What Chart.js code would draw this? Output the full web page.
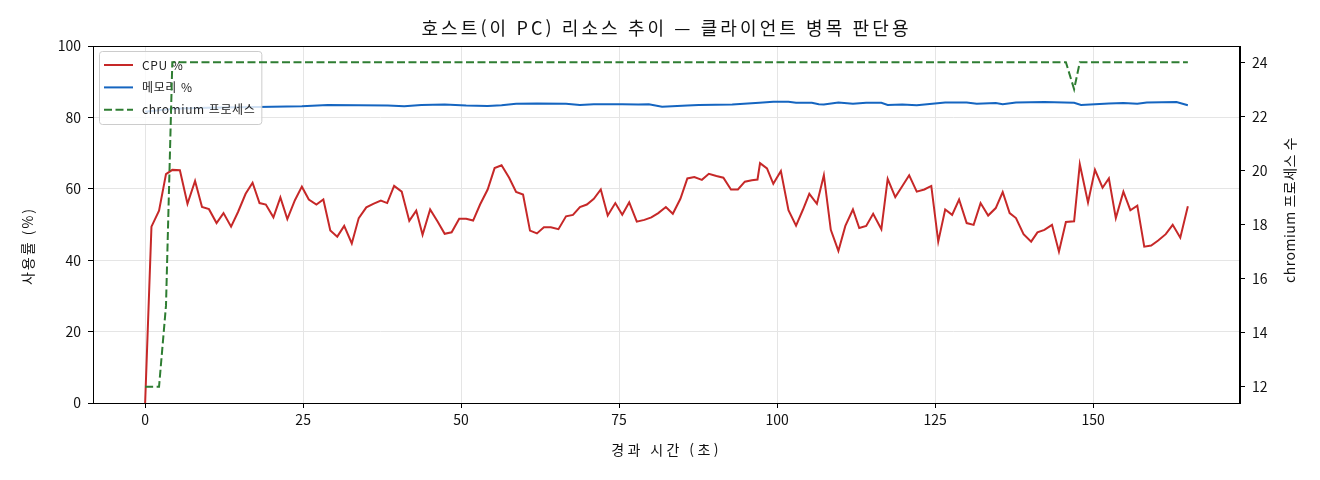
<!DOCTYPE html>
<html lang="ko">
<head>
<meta charset="utf-8">
<script src="https://cdn.jsdelivr.net/npm/chart.js@4.4.1/dist/chart.umd.min.js"></script>
<style>
  html, body { margin: 0; padding: 0; background: #fff; }
  #wrap { width: 1320px; height: 480px; position: relative; }
</style>
</head>
<body>
<div id="wrap"><canvas id="chart"></canvas></div>
<script>
// fonts
const FONT = "'Noto Sans CJK KR', 'Noto Sans', sans-serif";

const chartTitle = '호스트(이 PC) 리소스 추이 — 클라이언트 병목 판단용';
const xTitle = '경과 시간 (초)';
const leftTitle = '사용률 (%)';
const rightTitle = 'chromium 프로세스 수';
const seriesLabels = ['CPU %', '메모리 %', 'chromium 프로세스'];

// CPU % samples (elapsed seconds / percent)
const cpuTime = [
  0, 1.0, 2.2, 3.3, 4.3, 5.5, 6.7, 7.9, 9.0, 10.1, 11.3, 12.4, 13.6, 14.7, 15.9, 17.0,
  18.1, 19.1, 20.3, 21.4, 22.5, 23.7, 24.8, 25.9, 27.1, 28.2, 29.3, 30.4, 31.5, 32.7,
  33.8, 35.0, 36.1, 37.3, 38.3, 39.4, 40.6, 41.8, 42.9, 43.9, 45.1, 46.3, 47.4, 48.5,
  49.7, 50.8, 51.9, 53.0, 54.2, 55.3, 56.4, 57.6, 58.7, 59.8, 60.9, 62.0, 63.1, 64.2,
  65.4, 66.6, 67.7, 68.8, 69.9, 71.0, 72.1, 73.2, 74.4, 75.5, 76.6, 77.8, 79.0, 80.1,
  81.2, 82.4, 83.5, 84.7, 85.8, 86.9, 88.1, 89.2, 90.4, 91.5, 92.7, 93.8, 94.9, 96.0,
  96.9, 97.3, 98.4, 99.4, 100.6, 101.8, 103.0, 104.1, 105.1, 106.3, 107.4, 108.5, 109.7,
  110.8, 112.0, 113.0, 114.1, 115.2, 116.5, 117.5, 118.7, 119.8, 120.9, 122.1, 123.3,
  124.4, 125.5, 126.6, 127.7, 128.8, 130.0, 131.1, 132.2, 133.4, 134.6, 135.7, 136.8,
  137.8, 139.0, 140.2, 141.2, 142.3, 143.5, 144.6, 145.7, 147.0, 147.9, 149.2, 150.3,
  151.5, 152.5, 153.6, 154.8, 155.9, 157.0, 158.1, 159.2, 160.3, 161.5, 162.6, 163.8, 165.0
];
const cpuPct = [
  0, 49.4, 53.9, 64.1, 65.3, 65.2, 55.8, 62.2, 54.9, 54.3, 50.4, 53.2, 49.4, 53.5, 58.6, 61.7,
  56.0, 55.6, 52.0, 57.6, 51.5, 56.8, 60.6, 57.0, 55.6, 57.0, 48.3, 46.6, 49.6, 44.7,
  51.8, 54.8, 55.8, 56.7, 56.0, 60.8, 59.2, 51.0, 53.9, 47.1, 54.2, 50.8, 47.4, 47.8,
  51.6, 51.6, 51.1, 55.6, 59.8, 65.8, 66.6, 63.1, 59.1, 58.4, 48.3, 47.5, 49.2, 49.2,
  48.7, 52.3, 52.7, 54.9, 55.6, 57.2, 59.8, 52.5, 56.0, 52.7, 56.2, 50.8, 51.3, 52.0,
  53.2, 54.9, 53.0, 57.2, 62.9, 63.3, 62.5, 64.2, 63.6, 63.1, 59.8, 59.8, 62.0, 62.4,
  62.6, 67.2, 65.7, 61.4, 65.0, 54.0, 49.7, 54.2, 58.6, 55.8, 63.8, 48.5, 42.6,
  49.6, 54.2, 49.0, 49.6, 53.0, 48.7, 62.8, 57.7, 60.7, 63.8, 59.2, 59.8,
  60.8, 45.2, 54.2, 52.7, 57.0, 50.4, 49.9, 56.0, 52.5, 54.6, 59.1, 53.2,
  51.8, 47.3, 45.2, 47.8, 48.5, 49.9, 42.4, 50.7, 50.9, 66.9, 56.2, 65.3,
  60.3, 62.9, 51.8, 59.2, 54.0, 55.3, 43.8, 44.1, 45.5, 47.3, 49.9, 46.3, 55.1
];

// memory % samples
const memTime = [
  0, 2.2, 4.3, 9.8, 17.7, 24.8, 28.9, 33.8, 38.4, 41.0, 43.7, 47.4, 50.8, 54.2, 56.4,
  58.7, 62.0, 66.6, 68.8, 71.0, 75.5, 78.0, 79.7, 81.8, 85.8, 87.6, 92.9, 97.2, 99.4,
  101.8, 103.0, 105.5, 106.6, 107.4, 109.7, 112.0, 114.1, 116.5, 117.5, 119.8, 122.1,
  126.6, 130.0, 131.6, 134.6, 135.7, 137.8, 142.3, 147.0, 148.1, 150.3, 152.5, 154.8,
  157.0, 158.5, 163.2, 165.0
];
const memPct = [
  81.6, 82.0, 82.4, 82.7, 82.9, 83.1, 83.5, 83.4, 83.3, 83.1, 83.5, 83.6, 83.3, 83.2, 83.4,
  83.8, 83.9, 83.8, 83.5, 83.7, 83.7, 83.6, 83.7, 83.0, 83.3, 83.5, 83.6, 84.1, 84.4,
  84.4, 84.1, 84.1, 83.7, 83.6, 84.2, 83.8, 84.1, 84.1, 83.5, 83.6, 83.4,
  84.2, 84.2, 83.8, 84.0, 83.7, 84.2, 84.3, 84.1, 83.5, 83.7, 83.9, 84.0,
  83.8, 84.2, 84.3, 83.4
];

// chromium process count (right axis)
const procTime = [0, 1.0, 2.2, 3.3, 4.3, 145.7, 147.0, 147.9, 165.0];
const procCount = [12, 12, 12, 15, 24, 24, 23, 24, 24];

const xTicks = [0, 25, 50, 75, 100, 125, 150];
const leftTicks = [0, 20, 40, 60, 80, 100];
const rightTicks = [12, 14, 16, 18, 20, 22, 24];

const colors = ['#c62828', '#1565c0', '#2e7d32'];
const dash = [8, 3.5];

function pts(xs, ys) {
  return xs.map((x, i) => ({ x: x, y: ys[i] }));
}

// legend box in upper left of the plot; drawn after memory, before chromium (twin axis on top)
const innerLegend = {
  id: 'innerLegend',
  afterDatasetDraw(chart, args) {
    if (args.index !== 1) return;
    const ctx = chart.ctx;
    const area = chart.chartArea;
    ctx.save();
    ctx.font = '12px ' + FONT;
    ctx.letterSpacing = '0.6px';
    let maxW = 0;
    seriesLabels.forEach(l => { maxW = Math.max(maxW, ctx.measureText(l).width); });
    const x0 = area.left + 6, y0 = area.top + 5;
    const w = 43 + maxW + 6, h = 73;
    ctx.beginPath();
    ctx.roundRect(x0 + 0.5, y0 + 0.5, w, h, 3);
    ctx.fillStyle = 'rgba(255,255,255,0.8)';
    ctx.fill();
    ctx.strokeStyle = '#cccccc';
    ctx.lineWidth = 1;
    ctx.stroke();
    seriesLabels.forEach((l, i) => {
      const y = y0 + 14 + i * 22.4;
      ctx.beginPath();
      ctx.setLineDash(i === 2 ? dash : []);
      ctx.strokeStyle = colors[i];
      ctx.lineWidth = 2;
      ctx.moveTo(x0 + 5, y);
      ctx.lineTo(x0 + 34, y);
      ctx.stroke();
      ctx.setLineDash([]);
      ctx.fillStyle = '#222';
      ctx.textAlign = 'left';
      ctx.textBaseline = 'middle';
      ctx.fillText(l, x0 + 43, y);
    });
    ctx.restore();
  }
};

function vText(ctx, text, x, y) {
  ctx.save();
  ctx.translate(x, y);
  ctx.rotate(-Math.PI / 2);
  ctx.fillText(text, 0, 0);
  ctx.restore();
}

// frame, chart title and axis titles
const frame = {
  id: 'frame',
  afterDraw(chart) {
    const ctx = chart.ctx;
    const a = chart.chartArea;
    const cx = (a.left + a.right) / 2;
    ctx.save();
    ctx.strokeStyle = '#000';
    ctx.lineWidth = 1;
    ctx.strokeRect(a.left + 0.5, a.top + 0.5, a.right - a.left - 1, a.bottom - a.top);
    ctx.fillStyle = '#111';
    ctx.textAlign = 'center';
    ctx.textBaseline = 'middle';
    ctx.font = '18px ' + FONT;
    ctx.letterSpacing = '3.1px';
    ctx.fillText(chartTitle, cx, 28);
    ctx.font = '14px ' + FONT;
    ctx.letterSpacing = '3.4px';
    ctx.fillText(xTitle, cx, 450);
    ctx.letterSpacing = '2px';
    vText(ctx, leftTitle, 28, 246);
    ctx.letterSpacing = '0.5px';
    vText(ctx, rightTitle, 1290, 210);
    ctx.restore();
  }
};

const gridColor = '#e5e5e5';
const tickFont = { family: FONT, size: 14 };

new Chart(document.getElementById('chart'), {
  type: 'line',
  data: {
    datasets: [
      {
        label: seriesLabels[0], data: pts(cpuTime, cpuPct),
        borderColor: colors[0], backgroundColor: colors[0], borderWidth: 2,
        pointRadius: 0, tension: 0, yAxisID: 'y', order: 3
      },
      {
        label: seriesLabels[1], data: pts(memTime, memPct),
        borderColor: colors[1], backgroundColor: colors[1], borderWidth: 2,
        pointRadius: 0, tension: 0, yAxisID: 'y', order: 2
      },
      {
        label: seriesLabels[2], data: pts(procTime, procCount),
        borderColor: colors[2], backgroundColor: colors[2], borderWidth: 2,
        borderDash: dash, pointRadius: 0, tension: 0, yAxisID: 'y2', order: 1
      }
    ]
  },
  options: {
    responsive: true,
    maintainAspectRatio: false,
    animation: false,
    layout: { padding: { top: 46, left: 0, right: 0, bottom: 0 } },
    plugins: {
      legend: { display: false },
      title: { display: false },
      tooltip: { enabled: false }
    },
    scales: {
      x: {
        type: 'linear', min: -8.25, max: 173.25,
        afterBuildTicks: s => { s.ticks = xTicks.map(v => ({ value: v })); },
        afterFit: s => { s.height = 77; },
        grid: { color: gridColor, tickColor: '#000', tickLength: 5 },
        border: { color: '#000', width: 1 },
        ticks: { font: tickFont, color: '#111', padding: 3, maxRotation: 0, autoSkip: false }
      },
      y: {
        type: 'linear', position: 'left', min: 0, max: 100,
        afterBuildTicks: s => { s.ticks = leftTicks.map(v => ({ value: v })); },
        afterFit: s => { s.width = 93; },
        grid: { color: gridColor, tickColor: '#000', tickLength: 5 },
        border: { color: '#000', width: 1 },
        ticks: { font: tickFont, color: '#111', padding: 7 }
      },
      y2: {
        type: 'linear', position: 'right', min: 11.4, max: 24.6,
        afterBuildTicks: s => { s.ticks = rightTicks.map(v => ({ value: v })); },
        afterFit: s => { s.width = 80; },
        grid: { drawOnChartArea: false, tickColor: '#000', tickLength: 5 },
        border: { color: '#000', width: 1 },
        ticks: { font: tickFont, color: '#111', padding: 7 }
      }
    }
  },
  plugins: [innerLegend, frame]
});
</script>
</body>
</html>
